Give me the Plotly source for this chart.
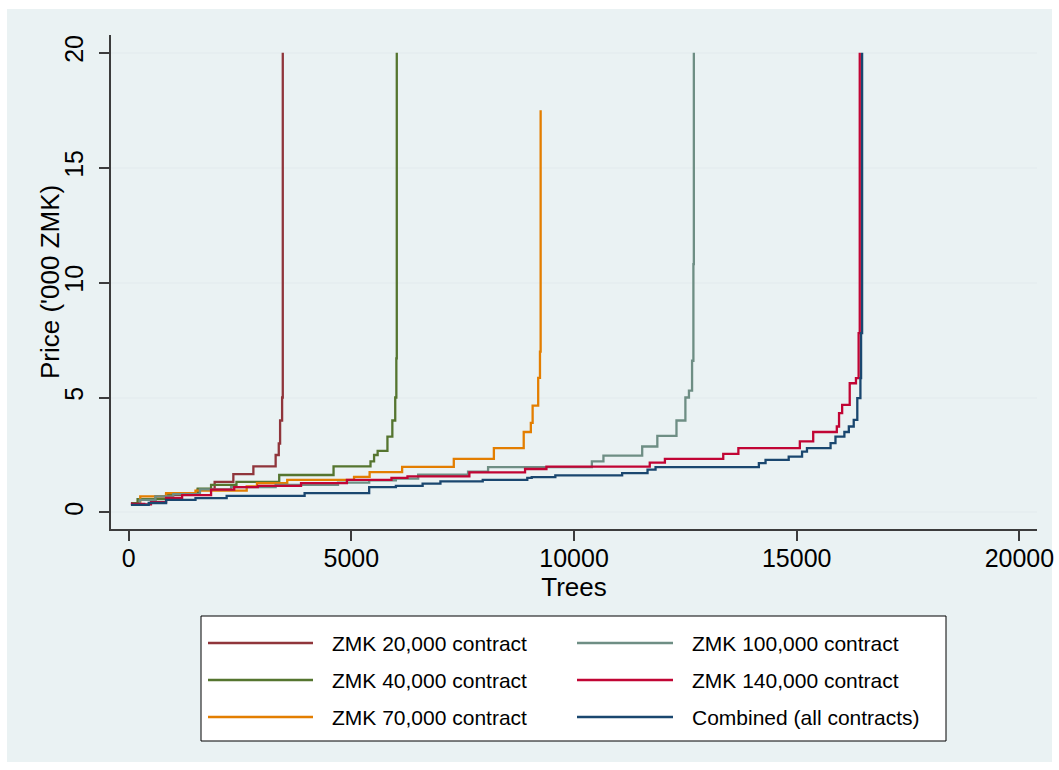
import plotly.graph_objects as go

# Cumulative number of trees offered (x) at or below each bid price ('000 ZMK), by contract size
trees_20k = [50, 250, 600, 840, 1550, 1930, 2350, 2800, 3300, 3370, 3400, 3445, 3460]
price_20k = [0.40, 0.55, 0.70, 0.77, 0.99, 1.33, 1.67, 2.00, 2.50, 3.00, 4.00, 5.00, 20.0]

trees_40k = [80, 200, 850, 1550, 1850, 2420, 3380, 4600, 5430, 5510, 5590, 5810, 5920, 5985, 6010, 6020]
price_40k = [0.40, 0.58, 0.80, 1.03, 1.20, 1.33, 1.63, 2.00, 2.22, 2.50, 2.68, 3.30, 4.00, 5.00, 6.70, 20.0]

trees_70k = [180, 260, 840, 1500, 2650, 2880, 3560, 5060, 5410, 6140, 7300, 8200, 8870, 9030, 9070, 9195, 9235, 9250]
price_70k = [0.33, 0.70, 0.84, 0.95, 1.13, 1.28, 1.42, 1.55, 1.75, 1.98, 2.33, 2.80, 3.50, 3.90, 4.65, 5.85, 7.00, 17.5]

trees_100k = [60, 250, 600, 1000, 1600, 2300, 3300, 4700, 5400, 6000, 6500, 7620, 8070, 10400, 10660,
              11530, 11870, 12300, 12500, 12580, 12650, 12680, 12690]
price_100k = [0.35, 0.55, 0.70, 0.80, 1.00, 1.10, 1.20, 1.30, 1.40, 1.47, 1.64, 1.77, 1.97, 2.22, 2.47,
              2.87, 3.33, 4.00, 5.00, 5.30, 6.60, 10.8, 20.0]

trees_140k = [50, 350, 500, 840, 1200, 1850, 2370, 2900, 3870, 4900, 5900, 6260, 7650, 8900, 9380,
              11700, 12040, 13350, 13690, 15070, 15370, 15900, 15950, 16020, 16190, 16330, 16390, 16415]
price_140k = [0.37, 0.35, 0.45, 0.63, 0.75, 0.99, 1.10, 1.16, 1.28, 1.42, 1.50, 1.57, 1.74, 1.89, 1.99,
              2.17, 2.33, 2.55, 2.80, 3.09, 3.50, 3.74, 4.32, 4.68, 5.62, 5.84, 7.80, 20.0]

trees_all = [50, 450, 840, 1500, 2200, 3950, 5400, 6000, 6600, 7000, 7950, 8950, 9050, 9580, 11080,
             11650, 11830, 14150, 14300, 14820, 15120, 15230, 15760, 15870, 16070, 16170, 16280,
             16360, 16430, 16445, 16468]
price_all = [0.33, 0.41, 0.55, 0.62, 0.72, 0.84, 1.10, 1.16, 1.25, 1.35, 1.42, 1.50, 1.54, 1.61, 1.71,
             1.86, 1.97, 2.15, 2.29, 2.43, 2.65, 2.80, 3.02, 3.30, 3.50, 3.74, 4.03,
             4.97, 5.84, 7.80, 20.0]

series_names = ["ZMK 20,000 contract", "ZMK 40,000 contract", "ZMK 70,000 contract",
                "ZMK 100,000 contract", "ZMK 140,000 contract", "Combined (all contracts)"]
series_colors = ["#90353B", "#55752F", "#E37E00", "#6E8E84", "#C10534", "#1A476F"]
series_x = [trees_20k, trees_40k, trees_70k, trees_100k, trees_140k, trees_all]
series_y = [price_20k, price_40k, price_70k, price_100k, price_140k, price_all]

x_ticks = [0, 5000, 10000, 15000, 20000]
y_ticks = [0, 5, 10, 15, 20]

W, H = 1059, 770
ML, MR, MT, MB = 111, 22, 35, 241
PW, PH = W - ML - MR, H - MT - MB
FONT = "Liberation Sans, Arial, Helvetica, sans-serif"
BG = "#EAF2F3"
AXIS = "#3C3C3C"


def px_x(p):
    return (p - ML) / PW


def px_y(p):
    return (H - MB - p) / PH


fig = go.Figure()
for name, color, xs, ys in zip(series_names, series_colors, series_x, series_y):
    fig.add_trace(go.Scatter(x=xs, y=ys, mode="lines", name=name, showlegend=False,
                             line=dict(color=color, width=2.3, shape="hv")))

shapes = [
    # tinted graph region
    dict(type="rect", xref="paper", yref="paper", layer="below",
         x0=px_x(7), x1=px_x(1052), y0=px_y(762), y1=px_y(9),
         fillcolor=BG, line=dict(width=0)),
    # legend frame
    dict(type="rect", xref="paper", yref="paper",
         x0=px_x(201), x1=px_x(946), y0=px_y(741), y1=px_y(616),
         fillcolor="white", line=dict(color="black", width=1)),
]
annotations = [
    # y-axis title
    dict(xref="paper", yref="paper", x=px_x(50), y=0.5, text="Price ('000 ZMK)",
         textangle=-90, showarrow=False, xanchor="center", yanchor="middle",
         font=dict(family=FONT, size=26, color="black")),
]
rows = [643, 680, 717]
cols = [(208, 313, 330), (577, 673, 690)]
for i, (name, color) in enumerate(zip(series_names, series_colors)):
    c0, c1, tx = cols[i // 3]
    ry = rows[i % 3]
    shapes.append(dict(type="line", xref="paper", yref="paper",
                       x0=px_x(c0), x1=px_x(c1), y0=px_y(ry), y1=px_y(ry),
                       line=dict(color=color, width=2.3)))
    annotations.append(dict(xref="paper", yref="paper", x=px_x(tx), y=px_y(ry),
                            text=name, showarrow=False, xanchor="left", yanchor="middle",
                            font=dict(family=FONT, size=21, color="black")))

fig.update_layout(
    width=W, height=H,
    margin=dict(l=ML, r=MR, t=MT, b=MB, autoexpand=False),
    paper_bgcolor="white", plot_bgcolor="white",
    font=dict(family=FONT, color="black"),
    shapes=shapes, annotations=annotations,
    showlegend=False,
    xaxis=dict(range=[-397, 20395], tickvals=x_ticks, ticktext=[str(v) for v in x_ticks],
               showgrid=False, zeroline=False, showline=True, linecolor=AXIS, linewidth=1.5,
               ticks="outside", ticklen=10, tickwidth=1.5, tickcolor=AXIS,
               ticklabelstandoff=-4,
               tickfont=dict(size=25, family=FONT, color="black"),
               title=dict(text="Trees", font=dict(size=26, family=FONT, color="black"), standoff=6)),
    yaxis=dict(range=[-0.72, 20.77], tickvals=y_ticks, ticktext=[str(v) for v in y_ticks],
               tickangle=-90, showgrid=True, gridcolor="#E6EEF0", gridwidth=1.5,
               zeroline=False, showline=True, linecolor=AXIS, linewidth=1.5,
               ticks="outside", ticklen=10, tickwidth=1.5, tickcolor=AXIS,
               ticklabelstandoff=6,
               tickfont=dict(size=25, family=FONT, color="black")),
)

fig.write_html("out.html")
